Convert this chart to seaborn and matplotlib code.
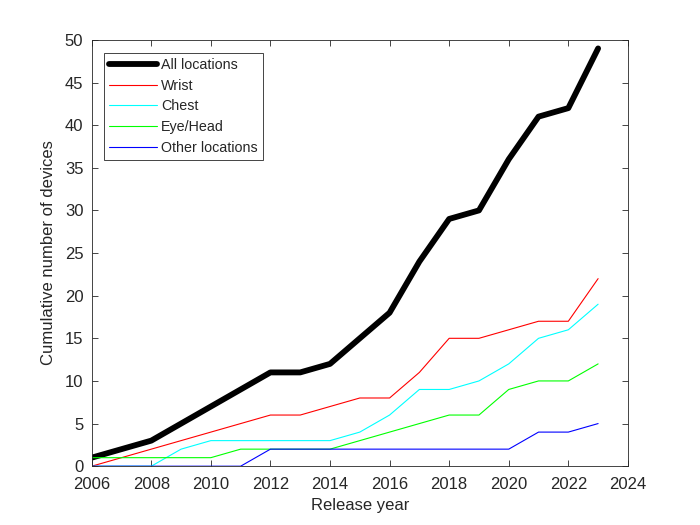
import pandas as pd
import matplotlib
matplotlib.use("Agg")
import matplotlib.pyplot as plt
import seaborn as sns

years = list(range(2006, 2024))
all_locations = [1, 2, 3, 5, 7, 9, 11, 11, 12, 15, 18, 24, 29, 30, 36, 41, 42, 49]
wrist = [0, 1, 2, 3, 4, 5, 6, 6, 7, 8, 8, 11, 15, 15, 16, 17, 17, 22]
chest = [0, 0, 0, 2, 3, 3, 3, 3, 3, 4, 6, 9, 9, 10, 12, 15, 16, 19]
eye_head = [1, 1, 1, 1, 1, 2, 2, 2, 2, 3, 4, 5, 6, 6, 9, 10, 10, 12]
other = [0, 0, 0, 0, 0, 0, 2, 2, 2, 2, 2, 2, 2, 2, 2, 4, 4, 5]

series = [
    ("All locations", all_locations, "black", 4.2),
    ("Wrist", wrist, "#ff0000", 0.8),
    ("Chest", chest, "#00ffff", 0.8),
    ("Eye/Head", eye_head, "#00ff00", 0.8),
    ("Other locations", other, "#0000ff", 0.8),
]

sns.set_style("ticks")
plt.rcParams["font.family"] = ["Liberation Sans", "DejaVu Sans"]

fig = plt.figure(figsize=(7, 5.25), dpi=100)
ax = fig.add_axes([0.131, 0.112, 0.766, 0.812])

for name, vals, color, lw in series:
    df = pd.DataFrame({"year": years, "count": vals})
    sns.lineplot(data=df, x="year", y="count", color=color, linewidth=lw,
                 label=name, ax=ax)

ax.set_xlim(2006, 2024)
ax.set_ylim(0, 50)
ax.set_xticks(range(2006, 2025, 2))
ax.set_yticks(range(0, 51, 5))
ax.set_xlabel("Release year", fontsize=12, color="#262626", labelpad=4)
ax.set_ylabel("Cumulative number of devices", fontsize=12, color="#262626",
              labelpad=6)
ax.tick_params(direction="in", top=True, right=True, labelsize=12,
               colors="#262626", length=4, width=0.6)
ax.tick_params(axis="x", pad=8)
ax.tick_params(axis="y", pad=6)
for sp in ax.spines.values():
    sp.set_visible(True)
    sp.set_color("#262626")
    sp.set_linewidth(0.6)

leg = ax.legend(loc="upper left", bbox_to_anchor=(0.0224, 0.9695), fontsize=10.3,
                frameon=True, fancybox=False, borderpad=0.35, labelspacing=0.47,
                handlelength=3.4, handletextpad=0.25, borderaxespad=0)
leg.get_frame().set_edgecolor("#262626")
leg.get_frame().set_linewidth(0.6)
leg.get_frame().set_alpha(1)

fig.savefig("out.png", dpi=100)
